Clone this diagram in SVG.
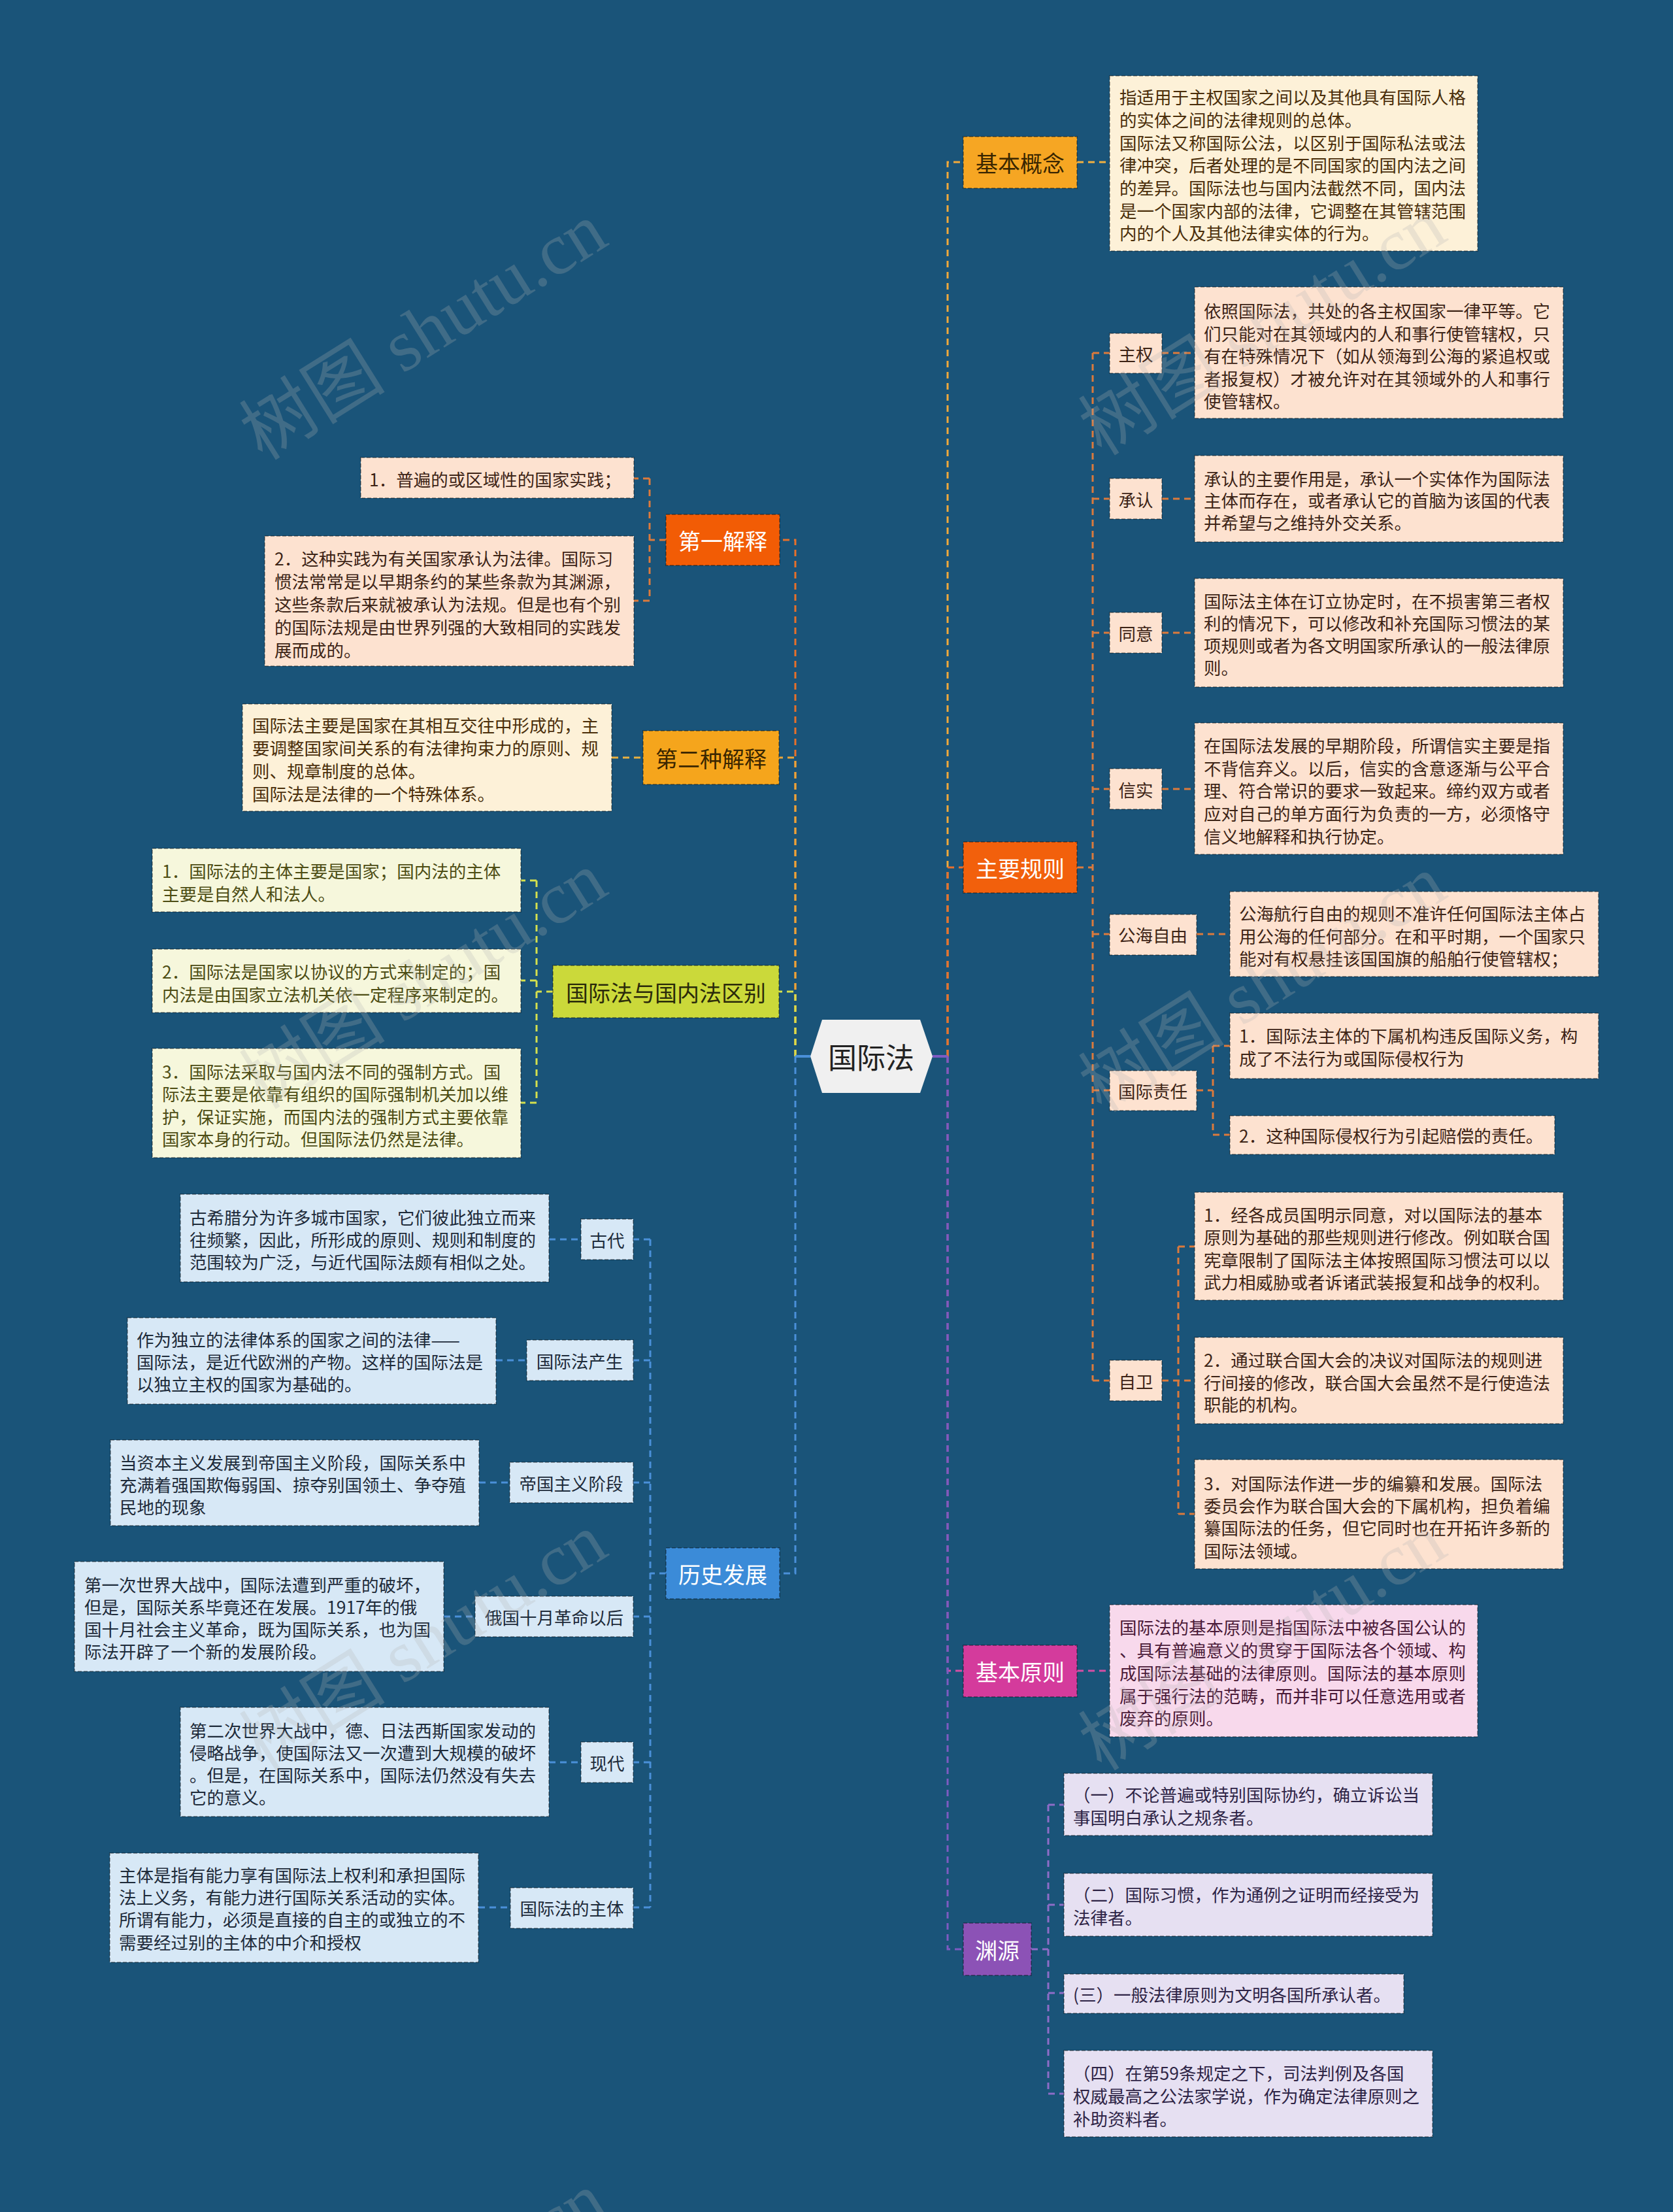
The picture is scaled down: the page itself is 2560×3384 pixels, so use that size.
<svg xmlns="http://www.w3.org/2000/svg" width="2560" height="3384" viewBox="0 0 2560 3384">
<defs>
<style>
text,tspan{font-family:"Noto Sans CJK SC","Noto Sans",sans-serif;dominant-baseline:central}
.n rect{stroke:#000;stroke-opacity:.32;stroke-width:2;stroke-dasharray:6 3}
.s{font-size:26.5px}
.m{font-size:26.5px;text-anchor:middle}
.l{font-size:34px;text-anchor:middle}
.c path{fill:none;stroke-width:3;stroke-dasharray:10 7}
.c path.solid{stroke-dasharray:none;stroke-width:4}
.cream rect{fill:#fdf1d8}.cream text{fill:#4a2e0a}
.peach rect{fill:#fde2d0}.peach text{fill:#3d2416}
.ylw rect{fill:#f6f7dc}.ylw text{fill:#4d4d14}
.blu rect{fill:#d7e8f6}.blu text{fill:#1e2b3a}
.pnk rect{fill:#f8d9ec}.pnk text{fill:#4a1a38}
.lav rect{fill:#e6e0f2}.lav text{fill:#2e2446}
.wm{font-family:"Liberation Serif","Noto Sans CJK SC",serif;font-size:112px;fill:#b4b4b4;fill-opacity:.25;text-anchor:middle}
</style>
</defs>
<rect width="2560" height="3384" fill="#1a5479"/>

<g id="connectors" class="c">
  <!-- right main -->
  <path d="M1450 1616 V248 H1474" stroke="#f2a93a"/>
  <path d="M1648 248 H1698" stroke="#f2b040"/>
  <path d="M1450 1616 V1327 H1474" stroke="#e8702e"/>
  <path d="M1450 1616 V2556 H1474" stroke="#d54ea5"/>
  <path d="M1450 1616 V2982 H1474" stroke="#7e5bc2"/>
  <path class="solid" d="M1427 1616 H1450" stroke="#7e5bc2"/>
  <!-- 主要规则 -->
  <path d="M1648 1327 H1672 M1672 540 V2112 M1672 540 H1698 M1672 763 H1698 M1672 968 H1698 M1672 1207 H1698 M1672 1429 H1698 M1672 1668 H1698 M1672 2112 H1698" stroke="#dc7a3c"/>
  <path d="M1778 540 H1828 M1778 763 H1828 M1778 968 H1828 M1778 1207 H1828 M1831 1429 H1882 M1831 1668 H1856 M1856 1600 V1736 M1856 1600 H1882 M1856 1736 H1882 M1778 2112 H1828 M1803 1907 V2316 M1803 1907 H1828 M1803 2316 H1828" stroke="#dc7a3c"/>
  <!-- 基本原则 -->
  <path d="M1648 2556 H1698" stroke="#d54ea5"/>
  <!-- 渊源 -->
  <path d="M1578 2982 H1604 M1604 2761 V3203 M1604 2761 H1628 M1604 2914 H1628 M1604 3049 H1628 M1604 3203 H1628" stroke="#8e6cc8"/>
  <!-- left main -->
  <path d="M1217 1616 V826 H1193" stroke="#e8702a"/>
  <path d="M1217 1616 V1159 H1192" stroke="#eaa53a"/>
  <path d="M1217 1616 V1517 H1192" stroke="#d5e04d"/>
  <path d="M1217 1616 V2407 H1193" stroke="#4a90d9"/>
  <path class="solid" d="M1217 1616 H1240" stroke="#4a90d9"/>
  <!-- 第一解释 -->
  <path d="M1019 826 H994 M994 732 V919 M994 732 H970 M994 919 H970" stroke="#dc7a3c"/>
  <!-- 第二种解释 -->
  <path d="M936 1159 H984" stroke="#e8b040"/>
  <!-- 区别 -->
  <path d="M846 1517 H821 M821 1347 V1687 M821 1347 H797 M821 1500 H797 M821 1687 H797" stroke="#d5e04d"/>
  <!-- 历史发展 -->
  <path d="M1019 2407 H995 M995 1896 V2918 M995 1896 H969 M995 2081 H969 M995 2268 H969 M995 2473 H969 M995 2696 H969 M995 2918 H969 M840 1896 H889 M759 2081 H806 M733 2268 H780 M679 2473 H727 M840 2696 H889 M732 2918 H781" stroke="#4a90d9"/>
</g>

<!-- center -->
<g id="root">
  <path d="M1240 1616 L1258 1560 H1408 L1427 1616 L1408 1672 H1258 Z" fill="#f0f0f0"/>
  <text x="1333" y="1616" font-size="44" text-anchor="middle" fill="#222">国际法</text>
</g>

<!-- right level-1 -->
<g id="n-jbgn" class="n"><rect x="1474" y="209" width="174" height="79" fill="#f6a623"/><text class="l" x="1561" y="248" fill="#3a2600">基本概念</text></g>
<g id="n-zygz" class="n"><rect x="1474" y="1288" width="174" height="78" fill="#f2600c"/><text class="l" x="1561" y="1327" fill="#fff">主要规则</text></g>
<g id="n-jbyz" class="n"><rect x="1474" y="2517" width="174" height="79" fill="#d43b9c"/><text class="l" x="1561" y="2556" fill="#fff">基本原则</text></g>
<g id="n-yy" class="n"><rect x="1474" y="2942" width="104" height="80" fill="#8c52b6"/><text class="l" x="1526" y="2982" fill="#fff">渊源</text></g>

<!-- 基本概念 detail -->
<g id="d-jbgn" class="n cream"><rect x="1698" y="116" width="563" height="268"/>
<text class="s"><tspan x="1713" y="147">指适用于主权国家之间以及其他具有国际人格</tspan><tspan x="1713" y="182">的实体之间的法律规则的总体。</tspan><tspan x="1713" y="217">国际法又称国际公法，以区别于国际私法或法</tspan><tspan x="1713" y="251">律冲突，后者处理的是不同国家的国内法之间</tspan><tspan x="1713" y="286">的差异。国际法也与国内法截然不同，国内法</tspan><tspan x="1713" y="321">是一个国家内部的法律，它调整在其管辖范围</tspan><tspan x="1713" y="355">内的个人及其他法律实体的行为。</tspan></text></g>

<!-- 主要规则 children -->
<g id="n-zq" class="n peach"><rect x="1698" y="510" width="80" height="61"/><text class="m" x="1738" y="540">主权</text></g>
<g id="d-zq" class="n peach"><rect x="1828" y="439" width="564" height="201"/>
<text class="s"><tspan x="1842" y="474">依照国际法，共处的各主权国家一律平等。它</tspan><tspan x="1842" y="509">们只能对在其领域内的人和事行使管辖权，只</tspan><tspan x="1842" y="543">有在特殊情况下（如从领海到公海的紧追权或</tspan><tspan x="1842" y="578">者报复权）才被允许对在其领域外的人和事行</tspan><tspan x="1842" y="612">使管辖权。</tspan></text></g>

<g id="n-cr" class="n peach"><rect x="1698" y="732" width="80" height="62"/><text class="m" x="1738" y="763">承认</text></g>
<g id="d-cr" class="n peach"><rect x="1828" y="697" width="564" height="132"/>
<text class="s"><tspan x="1842" y="731">承认的主要作用是，承认一个实体作为国际法</tspan><tspan x="1842" y="764">主体而存在，或者承认它的首脑为该国的代表</tspan><tspan x="1842" y="798">并希望与之维持外交关系。</tspan></text></g>

<g id="n-ty" class="n peach"><rect x="1698" y="937" width="80" height="62"/><text class="m" x="1738" y="968">同意</text></g>
<g id="d-ty" class="n peach"><rect x="1828" y="885" width="564" height="166"/>
<text class="s"><tspan x="1842" y="918">国际法主体在订立协定时，在不损害第三者权</tspan><tspan x="1842" y="952">利的情况下，可以修改和补充国际习惯法的某</tspan><tspan x="1842" y="986">项规则或者为各文明国家所承认的一般法律原</tspan><tspan x="1842" y="1020">则。</tspan></text></g>

<g id="n-xs" class="n peach"><rect x="1698" y="1176" width="80" height="62"/><text class="m" x="1738" y="1207">信实</text></g>
<g id="d-xs" class="n peach"><rect x="1828" y="1106" width="564" height="201"/>
<text class="s"><tspan x="1842" y="1139">在国际法发展的早期阶段，所谓信实主要是指</tspan><tspan x="1842" y="1174">不背信弃义。以后，信实的含意逐渐与公平合</tspan><tspan x="1842" y="1208">理、符合常识的要求一致起来。缔约双方或者</tspan><tspan x="1842" y="1243">应对自己的单方面行为负责的一方，必须恪守</tspan><tspan x="1842" y="1278">信义地解释和执行协定。</tspan></text></g>

<g id="n-ghzy" class="n peach"><rect x="1698" y="1399" width="133" height="62"/><text class="m" x="1764" y="1429">公海自由</text></g>
<g id="d-ghzy" class="n peach"><rect x="1882" y="1364" width="564" height="130"/>
<text class="s"><tspan x="1896" y="1396">公海航行自由的规则不准许任何国际法主体占</tspan><tspan x="1896" y="1431">用公海的任何部分。在和平时期，一个国家只</tspan><tspan x="1896" y="1465">能对有权悬挂该国国旗的船舶行使管辖权；</tspan></text></g>

<g id="n-gjzr" class="n peach"><rect x="1698" y="1638" width="133" height="61"/><text class="m" x="1764" y="1668">国际责任</text></g>
<g id="d-gjzr1" class="n peach"><rect x="1882" y="1550" width="564" height="100"/>
<text class="s"><tspan x="1896" y="1583">1．国际法主体的下属机构违反国际义务，构</tspan><tspan x="1896" y="1618">成了不法行为或国际侵权行为</tspan></text></g>
<g id="d-gjzr2" class="n peach"><rect x="1882" y="1707" width="497" height="59"/>
<text class="s" x="1896" y="1736">2．这种国际侵权行为引起赔偿的责任。</text></g>

<g id="n-zw" class="n peach"><rect x="1698" y="2081" width="80" height="62"/><text class="m" x="1738" y="2112">自卫</text></g>
<g id="d-zw1" class="n peach"><rect x="1828" y="1824" width="564" height="165"/>
<text class="s"><tspan x="1842" y="1857">1．经各成员国明示同意，对以国际法的基本</tspan><tspan x="1842" y="1891">原则为基础的那些规则进行修改。例如联合国</tspan><tspan x="1842" y="1926">宪章限制了国际法主体按照国际习惯法可以以</tspan><tspan x="1842" y="1960">武力相威胁或者诉诸武装报复和战争的权利。</tspan></text></g>
<g id="d-zw2" class="n peach"><rect x="1828" y="2046" width="564" height="132"/>
<text class="s"><tspan x="1842" y="2079">2．通过联合国大会的决议对国际法的规则进</tspan><tspan x="1842" y="2114">行间接的修改，联合国大会虽然不是行使造法</tspan><tspan x="1842" y="2147">职能的机构。</tspan></text></g>
<g id="d-zw3" class="n peach"><rect x="1828" y="2233" width="564" height="167"/>
<text class="s"><tspan x="1842" y="2268">3．对国际法作进一步的编纂和发展。国际法</tspan><tspan x="1842" y="2302">委员会作为联合国大会的下属机构，担负着编</tspan><tspan x="1842" y="2336">纂国际法的任务，但它同时也在开拓许多新的</tspan><tspan x="1842" y="2371">国际法领域。</tspan></text></g>

<!-- 基本原则 detail -->
<g id="d-jbyz" class="n pnk"><rect x="1698" y="2455" width="563" height="202"/>
<text class="s"><tspan x="1713" y="2488">国际法的基本原则是指国际法中被各国公认的</tspan><tspan x="1713" y="2523">、具有普遍意义的贯穿于国际法各个领域、构</tspan><tspan x="1713" y="2558">成国际法基础的法律原则。国际法的基本原则</tspan><tspan x="1713" y="2593">属于强行法的范畴，而并非可以任意选用或者</tspan><tspan x="1713" y="2627">废弃的原则。</tspan></text></g>

<!-- 渊源 children -->
<g id="d-yy1" class="n lav"><rect x="1628" y="2713" width="564" height="95"/>
<text class="s"><tspan x="1642" y="2744">（一）不论普遍或特别国际协约，确立诉讼当</tspan><tspan x="1642" y="2779">事国明白承认之规条者。</tspan></text></g>
<g id="d-yy2" class="n lav"><rect x="1628" y="2866" width="564" height="96"/>
<text class="s"><tspan x="1642" y="2897">（二）国际习惯，作为通例之证明而经接受为</tspan><tspan x="1642" y="2932">法律者。</tspan></text></g>
<g id="d-yy3" class="n lav"><rect x="1628" y="3020" width="520" height="60"/>
<text class="s" x="1642" y="3050">(三）一般法律原则为文明各国所承认者。</text></g>
<g id="d-yy4" class="n lav"><rect x="1628" y="3137" width="564" height="132"/>
<text class="s"><tspan x="1642" y="3170">（四）在第59条规定之下，司法判例及各国</tspan><tspan x="1642" y="3205">权威最高之公法家学说，作为确定法律原则之</tspan><tspan x="1642" y="3240">补助资料者。</tspan></text></g>

<!-- left level-1 -->
<g id="n-dyjs" class="n"><rect x="1019" y="787" width="174" height="78" fill="#f25c05"/><text class="l" x="1106" y="826" fill="#fff">第一解释</text></g>
<g id="n-dezjs" class="n"><rect x="984" y="1118" width="208" height="82" fill="#f5a51c"/><text class="l" x="1088" y="1159" fill="#3a2600">第二种解释</text></g>
<g id="n-qb" class="n"><rect x="846" y="1477" width="346" height="80" fill="#cbd93a"/><text class="l" x="1019" y="1517" fill="#2a2a0a">国际法与国内法区别</text></g>
<g id="n-lsfz" class="n"><rect x="1019" y="2368" width="174" height="78" fill="#3b8bd8"/><text class="l" x="1106" y="2407" fill="#fff">历史发展</text></g>

<!-- 第一解释 children -->
<g id="d-dy1" class="n peach"><rect x="552" y="700" width="418" height="62"/>
<text class="s" x="565" y="732">1．普遍的或区域性的国家实践；</text></g>
<g id="d-dy2" class="n peach"><rect x="405" y="820" width="565" height="199"/>
<text class="s"><tspan x="420" y="853">2．这种实践为有关国家承认为法律。国际习</tspan><tspan x="420" y="888">惯法常常是以早期条约的某些条款为其渊源，</tspan><tspan x="420" y="923">这些条款后来就被承认为法规。但是也有个别</tspan><tspan x="420" y="958">的国际法规是由世界列强的大致相同的实践发</tspan><tspan x="420" y="993">展而成的。</tspan></text></g>

<!-- 第二种解释 detail -->
<g id="d-dez" class="n cream"><rect x="371" y="1077" width="565" height="164"/>
<text class="s"><tspan x="386" y="1108">国际法主要是国家在其相互交往中形成的，主</tspan><tspan x="386" y="1143">要调整国家间关系的有法律拘束力的原则、规</tspan><tspan x="386" y="1178">则、规章制度的总体。</tspan><tspan x="386" y="1213">国际法是法律的一个特殊体系。</tspan></text></g>

<!-- 区别 children -->
<g id="d-qb1" class="n ylw"><rect x="233" y="1298" width="564" height="97"/>
<text class="s"><tspan x="248" y="1331">1．国际法的主体主要是国家；国内法的主体</tspan><tspan x="248" y="1366">主要是自然人和法人。</tspan></text></g>
<g id="d-qb2" class="n ylw"><rect x="233" y="1452" width="564" height="97"/>
<text class="s"><tspan x="248" y="1485">2．国际法是国家以协议的方式来制定的；国</tspan><tspan x="248" y="1520">内法是由国家立法机关依一定程序来制定的。</tspan></text></g>
<g id="d-qb3" class="n ylw"><rect x="233" y="1604" width="564" height="167"/>
<text class="s"><tspan x="248" y="1638">3．国际法采取与国内法不同的强制方式。国</tspan><tspan x="248" y="1672">际法主要是依靠有组织的国际强制机关加以维</tspan><tspan x="248" y="1707">护，保证实施，而国内法的强制方式主要依靠</tspan><tspan x="248" y="1741">国家本身的行动。但国际法仍然是法律。</tspan></text></g>

<!-- 历史发展 children -->
<g id="n-gd" class="n blu"><rect x="889" y="1865" width="80" height="62"/><text class="m" x="929" y="1896">古代</text></g>
<g id="d-gd" class="n blu"><rect x="276" y="1827" width="564" height="134"/>
<text class="s"><tspan x="290" y="1861">古希腊分为许多城市国家，它们彼此独立而来</tspan><tspan x="290" y="1895">往频繁，因此，所形成的原则、规则和制度的</tspan><tspan x="290" y="1929">范围较为广泛，与近代国际法颇有相似之处。</tspan></text></g>

<g id="n-gjfcs" class="n blu"><rect x="806" y="2050" width="163" height="62"/><text class="m" x="887" y="2081">国际法产生</text></g>
<g id="d-gjfcs" class="n blu"><rect x="195" y="2016" width="564" height="132"/>
<text class="s"><tspan x="209" y="2048">作为独立的法律体系的国家之间的法律——</tspan><tspan x="209" y="2082">国际法，是近代欧洲的产物。这样的国际法是</tspan><tspan x="209" y="2116">以独立主权的国家为基础的。</tspan></text></g>

<g id="n-dgzy" class="n blu"><rect x="780" y="2237" width="189" height="62"/><text class="m" x="874" y="2268">帝国主义阶段</text></g>
<g id="d-dgzy" class="n blu"><rect x="169" y="2203" width="564" height="131"/>
<text class="s"><tspan x="183" y="2236">当资本主义发展到帝国主义阶段，国际关系中</tspan><tspan x="183" y="2270">充满着强国欺侮弱国、掠夺别国领土、争夺殖</tspan><tspan x="183" y="2304">民地的现象</tspan></text></g>

<g id="n-egsy" class="n blu"><rect x="727" y="2442" width="242" height="62"/><text class="m" x="848" y="2473">俄国十月革命以后</text></g>
<g id="d-egsy" class="n blu"><rect x="114" y="2389" width="565" height="168"/>
<text class="s"><tspan x="129" y="2423">第一次世界大战中，国际法遭到严重的破坏，</tspan><tspan x="129" y="2457">但是，国际关系毕竟还在发展。1917年的俄</tspan><tspan x="129" y="2491">国十月社会主义革命，既为国际关系，也为国</tspan><tspan x="129" y="2525">际法开辟了一个新的发展阶段。</tspan></text></g>

<g id="n-xd" class="n blu"><rect x="889" y="2665" width="80" height="62"/><text class="m" x="929" y="2696">现代</text></g>
<g id="d-xd" class="n blu"><rect x="276" y="2612" width="564" height="167"/>
<text class="s"><tspan x="290" y="2646">第二次世界大战中，德、日法西斯国家发动的</tspan><tspan x="290" y="2680">侵略战争，使国际法又一次遭到大规模的破坏</tspan><tspan x="290" y="2714">。但是，在国际关系中，国际法仍然没有失去</tspan><tspan x="290" y="2748">它的意义。</tspan></text></g>

<g id="n-zt" class="n blu"><rect x="781" y="2888" width="188" height="62"/><text class="m" x="875" y="2918">国际法的主体</text></g>
<g id="d-zt" class="n blu"><rect x="168" y="2835" width="564" height="167"/>
<text class="s"><tspan x="182" y="2867">主体是指有能力享有国际法上权利和承担国际</tspan><tspan x="182" y="2901">法上义务，有能力进行国际关系活动的实体。</tspan><tspan x="182" y="2935">所谓有能力，必须是直接的自主的或独立的不</tspan><tspan x="182" y="2970">需要经过别的主体的中介和授权</tspan></text></g>

<!-- watermarks -->
<g id="watermark">
<text class="wm" transform="translate(648 507) rotate(-32)">树图 shutu.cn</text>
<text class="wm" transform="translate(1932 500) rotate(-32)">树图 shutu.cn</text>
<text class="wm" transform="translate(648 1500) rotate(-32)">树图 shutu.cn</text>
<text class="wm" transform="translate(1932 1505) rotate(-32)">树图 shutu.cn</text>
<text class="wm" transform="translate(648 2512) rotate(-32)">树图 shutu.cn</text>
<text class="wm" transform="translate(1932 2512) rotate(-32)">树图 shutu.cn</text>
<text class="wm" transform="translate(648 3520) rotate(-32)">树图 shutu.cn</text>
</g>
</svg>
